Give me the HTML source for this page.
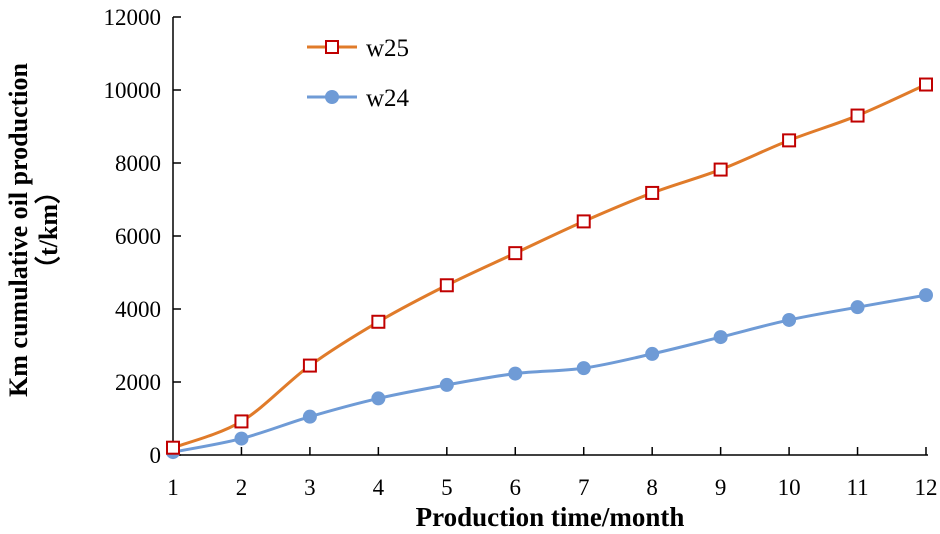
<!DOCTYPE html>
<html><head><meta charset="utf-8"><style>
body{margin:0;background:#fff;width:940px;height:529px;overflow:hidden}
text{font-family:"Liberation Serif",serif}
</style></head><body>
<svg id="chart" width="940" height="529">
<g id="axes"></g><g id="series"></g>
<text x="27" y="230" transform="rotate(-90 27 230)" text-anchor="middle" font-size="26" font-weight="bold">Km cumulative oil production</text>
<text x="57" y="230" transform="rotate(-90 57 230)" text-anchor="middle" font-size="26" font-weight="bold">（t/km）</text>
<text x="550" y="526" text-anchor="middle" font-size="27" font-weight="bold">Production time/month</text>
<g>
<line x1="307" y1="47" x2="357" y2="47" stroke="#e07b2a" stroke-width="3"/>
<rect x="326" y="41" width="12" height="12" fill="#fff" stroke="#c00000" stroke-width="2"/>
<text x="366" y="56" font-size="25">w25</text>
<line x1="307" y1="97" x2="357" y2="97" stroke="#6f9bd6" stroke-width="3"/>
<circle cx="332" cy="97" r="7" fill="#6f9bd6"/>
<text x="366" y="106" font-size="25">w24</text>
</g>
</svg>
<script>
const months=[1,2,3,4,5,6,7,8,9,10,11,12];
const w25=[200,920,2450,3650,4650,5530,6400,7180,7820,8620,9300,10150];
const w24=[80,450,1050,1550,1920,2230,2380,2770,3230,3700,4050,4380];
const yTicks=[0,2000,4000,6000,8000,10000,12000];
const NS="http://www.w3.org/2000/svg";
const x0=173,x1=926,y0=455,y1=17;
const X=m=>x0+(m-1)/11*(x1-x0);
const Y=v=>y0-v/12000*(y0-y1);
function mk(t,a,p){const e=document.createElementNS(NS,t);for(const k in a)e.setAttribute(k,a[k]);p.appendChild(e);return e;}
const ax=document.getElementById('axes'),se=document.getElementById('series');
const yl=mk('line',{x1:x0,y1:y1,x2:x0,y2:y0,stroke:'#000','stroke-width':1.5},ax);


const xl=mk('line',{x1:x0,y1:y0,x2:x1+2,y2:y0,stroke:'#000','stroke-width':1.5},ax);


yTicks.forEach(v=>{
 mk('line',{x1:x0,y1:Y(v),x2:x0+8,y2:Y(v),stroke:'#000','stroke-width':1.5},ax);
 const t=mk('text',{x:x0-12,y:Y(v)+8,'text-anchor':'end','font-size':23},ax);t.textContent=v;
 
 
});
months.forEach(m=>{
 mk('line',{x1:X(m),y1:y0,x2:X(m),y2:y0-8,stroke:'#000','stroke-width':1.5},ax);
 const t=mk('text',{x:X(m),y:y0+40,'text-anchor':'middle','font-size':23},ax);t.textContent=m;
 
 
});
function path(vals){
 const p=vals.map((v,i)=>[X(months[i]),Y(v)]);
 let d='M'+p[0][0]+','+p[0][1];
 for(let i=0;i<p.length-1;i++){
  const a=p[i-1]||p[i],b=p[i],c=p[i+1],e=p[i+2]||c;
  d+=' C'+(b[0]+(c[0]-a[0])/6)+','+(b[1]+(c[1]-a[1])/6)+' '+(c[0]-(e[0]-b[0])/6)+','+(c[1]-(e[1]-b[1])/6)+' '+c[0]+','+c[1];
 }
 return d;
}
const l24=mk('path',{d:path(w24),fill:'none',stroke:'#6f9bd6','stroke-width':3},se);


w24.forEach((v,i)=>{const c=mk('circle',{cx:X(months[i]),cy:Y(v),r:7,fill:'#6f9bd6'},se);
 
 });
const l25=mk('path',{d:path(w25),fill:'none',stroke:'#e07b2a','stroke-width':3},se);


w25.forEach((v,i)=>{const r=mk('rect',{x:X(months[i])-6,y:Y(v)-6,width:12,height:12,fill:'#fff',stroke:'#c00000','stroke-width':2},se);
 
 });
</script>
</body></html>
